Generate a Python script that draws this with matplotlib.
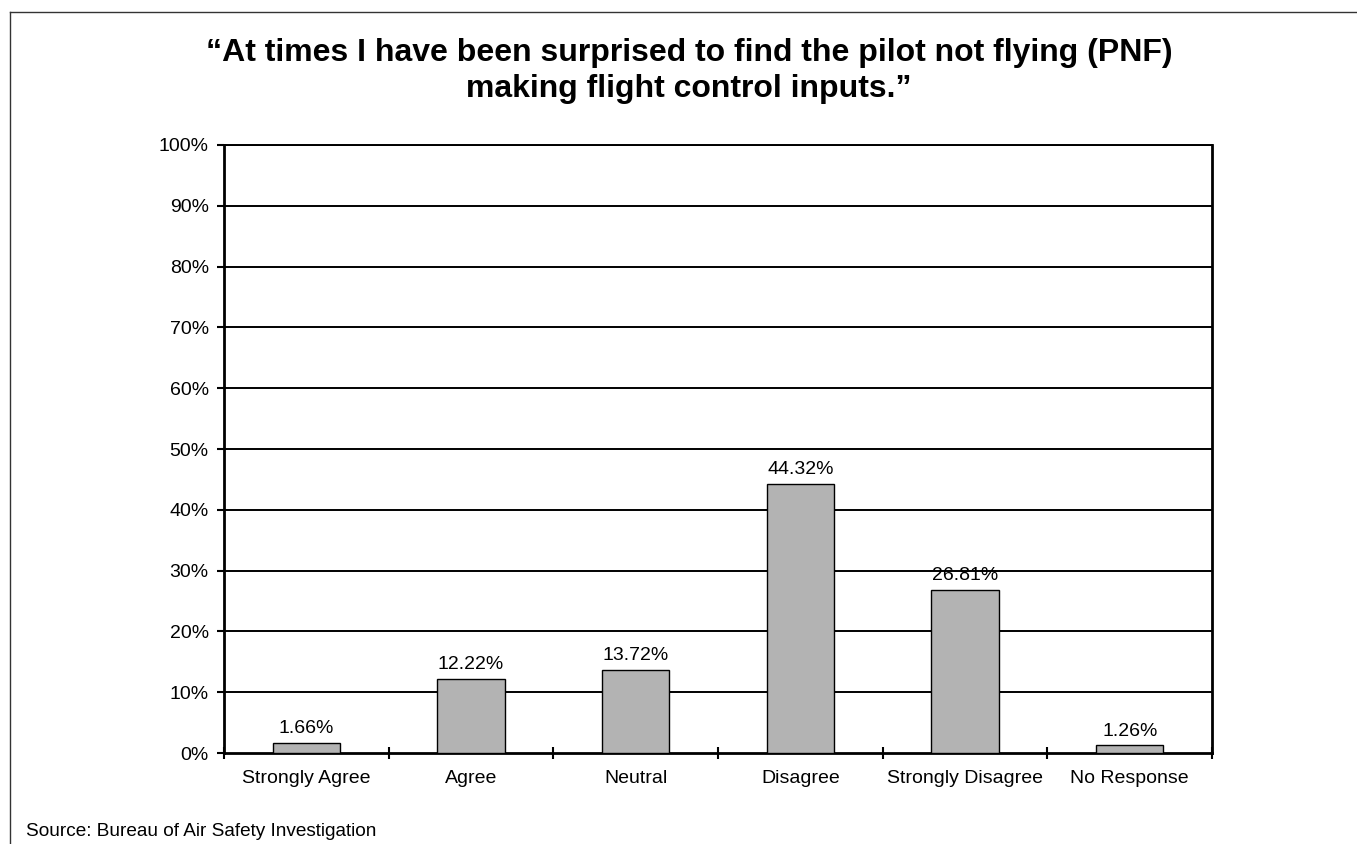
import matplotlib
matplotlib.use('Agg')
import matplotlib.pyplot as plt
from matplotlib.lines import Line2D
import numpy as np

plt.rcParams['font.family'] = ['Liberation Sans', 'DejaVu Sans']

categories = ['Strongly Agree', 'Agree', 'Neutral', 'Disagree', 'Strongly Disagree', 'No Response']
values = [1.66, 12.22, 13.72, 44.32, 26.81, 1.26]
yticks = [0, 10, 20, 30, 40, 50, 60, 70, 80, 90, 100]

title1 = '\u201cAt times I have been surprised to find the pilot not flying (PNF)'
title2 = 'making flight control inputs.\u201d'
source = 'Source: Bureau of Air Safety Investigation'

W, H = 1357.0, 844.0
fig = plt.figure(figsize=(13.57, 8.44), dpi=100)
ax = fig.add_axes([0.1651, 0.1078, 0.7281, 0.7204])

x = np.arange(len(categories))
ax.bar(x, values, width=0.41, color='#b3b3b3', edgecolor='black', linewidth=1, zorder=3)
for xi, v in zip(x, values):
    ax.text(xi, v + 1.6, '%.2f%%' % v, ha='center', va='baseline', fontsize=14, zorder=4)

ax.set_xlim(-0.5, len(categories) - 0.5)
ax.set_ylim(0, 100)
ax.set_yticks(yticks)
ax.set_yticklabels(['%d%%' % t for t in yticks], fontsize=14)
for t in yticks[1:]:
    ax.axhline(t, color='black', linewidth=1.4, zorder=1)

# category labels at centers, ticks at the boundaries
ax.set_xticks(x)
ax.set_xticklabels(categories, fontsize=14)
ax.tick_params(axis='x', length=0, pad=12)
ax.set_xticks(np.arange(len(categories) + 1) - 0.5, minor=True)
ax.tick_params(axis='x', which='minor', length=8, width=1.5, direction='inout')
ax.tick_params(axis='y', length=5, width=1.5, direction='out', pad=6)

for s in ['left', 'bottom', 'right']:
    ax.spines[s].set_linewidth(2)
ax.spines['top'].set_linewidth(1.4)

tx = 689 / W
fig.text(tx, 1 - 61 / H, title1, ha='center', va='baseline', fontsize=23, fontweight='bold')
fig.text(tx, 1 - 97 / H, title2, ha='center', va='baseline', fontsize=23, fontweight='bold')
fig.text(26 / W, 1 - 836 / H, source, ha='left', va='baseline', fontsize=13.7)

# outer frame
fx = 10 / W
fy = 1 - 12 / H
fig.add_artist(Line2D([fx, 1], [fy, fy], transform=fig.transFigure, color='#333333', linewidth=1))
fig.add_artist(Line2D([fx, fx], [0, fy], transform=fig.transFigure, color='#333333', linewidth=1))

fig.savefig('out.png', dpi=100)
